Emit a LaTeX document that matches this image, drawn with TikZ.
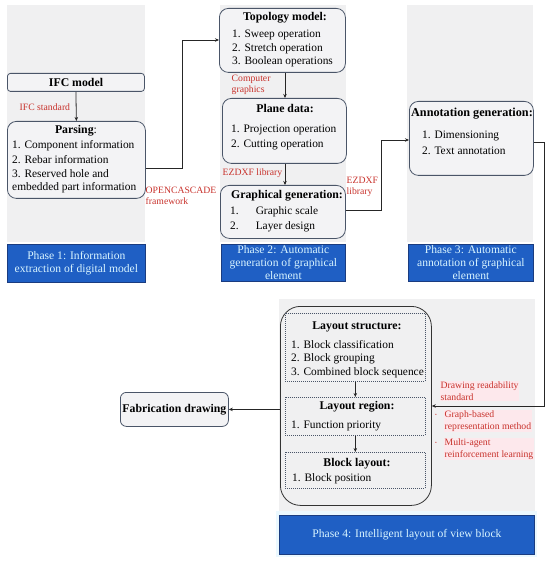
\documentclass[tikz,border=0pt]{standalone}
\usepackage{fontspec}
\setmainfont{Liberation Serif}
\usetikzlibrary{arrows.meta}
\definecolor{panelgray}{HTML}{F0F0F1}
\definecolor{boxfill}{HTML}{F3F3F5}
\definecolor{boxline}{HTML}{4A5568}
\definecolor{phaseblue}{HTML}{1F5FC4}
\definecolor{phaseline}{HTML}{1A3C80}
\definecolor{phasetext}{HTML}{D8F4FF}
\definecolor{labred}{HTML}{C8322C}
\definecolor{labpink}{HTML}{FDE8EC}
\tikzset{
  panel/.style={fill=panelgray, draw=none},
  rbox/.style={draw=boxline, fill=boxfill, line width=0.8pt, rounded corners=9pt},
  dbox/.style={draw=boxline, dashed, dash pattern=on 1pt off 1pt, line width=0.6pt},
  phase/.style={draw=phaseline, fill=phaseblue, line width=0.8pt},
  phtxt/.style={text=phasetext, font=\fontsize{11.6}{13}\selectfont, align=center, inner sep=0pt},
  ttl/.style={font=\fontsize{11.8}{13}\selectfont\bfseries, inner sep=0pt},
  itm/.style={font=\fontsize{11.4}{13}\selectfont, inner sep=0pt, anchor=west},
  lab/.style={text=labred, font=\fontsize{9.7}{11.5}\selectfont, inner sep=0.5pt, anchor=west},
  conn/.style={draw=black!85, line width=0.8pt, -{Stealth[length=4pt,width=3.5pt]}},
}
\begin{document}
\begin{tikzpicture}[x=1pt,y=-1pt]
\useasboundingbox (0,0) rectangle (550,561);
% panels
\fill[panel] (7,5) rectangle (145,242);
\fill[panel] (220,5) rectangle (346,242);
\fill[panel] (407,5) rectangle (533,242);
\fill[panel] (279,299) rectangle (535,513);
\fill[cyan!8] (276,511) rectangle (537,557);
% Phase 1
\node[rbox, rounded corners=3pt, minimum width=137pt, minimum height=18pt, anchor=north west] (ifc) at (7,73) {};
\node[ttl] (ifct) at (76,82) {IFC model};
\node[rbox, minimum width=138pt, minimum height=77pt, anchor=north west] (parse) at (7,121) {};
\node[ttl] (parset) at (76,131) {Parsing\textmd{:}};
\node[itm] (p1) at (12,146) {1. Component information};
\node[itm] (p2) at (12,160) {2. Rebar information};
\node[itm] (p3) at (12,174) {3. Reserved hole and};
\node[itm] (p4) at (12,188) {embedded part information};
\node[phase, minimum width=138pt, minimum height=38pt, anchor=north west] (ph1) at (7,244) {};
\node[phtxt] (ph1t) at (ph1.center) {Phase 1: Information\\extraction of digital model};
\node[lab] (l1) at (19,107) {IFC standard};
% Phase 2
\node[rbox, minimum width=126pt, minimum height=64pt, anchor=north west] (topo) at (219,8) {};
\node[ttl] (topot) at (285,18) {Topology model:};
\node[itm] (t1) at (232,35) {1. Sweep operation};
\node[itm] (t2) at (232,49) {2. Stretch operation};
\node[itm] (t3) at (232,62) {3. Boolean operations};
\node[rbox, minimum width=124pt, minimum height=65pt, anchor=north west] (plane) at (222,98) {};
\node[ttl] (planet) at (285,108) {Plane data:};
\node[itm] (pl1) at (231,130) {1. Projection operation};
\node[itm] (pl2) at (231,145) {2. Cutting operation};
\node[rbox, minimum width=125pt, minimum height=53pt, anchor=north west] (graph) at (220,185) {};
\node[ttl] (grapht) at (287,196) {Graphical generation:};
\node[itm] (g1) at (230,212) {1.\hspace{17pt}Graphic scale};
\node[itm] (g2) at (230,227) {2.\hspace{17pt}Layer design};
\node[phase, minimum width=124pt, minimum height=37pt, anchor=north west] (ph2) at (221,244) {};
\node[phtxt] (ph2t) at (ph2.center) {Phase 2: Automatic\\generation of graphical\\element};
\node[lab, align=left] (l2) at (231,85) {Computer\\graphics};
\node[lab] (l3) at (222,173) {EZDXF library};
\node[lab, align=left] (l4) at (346,187) {EZDXF\\library};
\node[lab, align=left] (l5) at (145,196) {OPENCASCADE\\framework};
% Phase 3
\node[rbox, minimum width=124pt, minimum height=74pt, anchor=north west] (anno) at (409,101) {};
\node[ttl, font=\fontsize{12.2}{13}\selectfont\bfseries] (annot) at (472,114) {Annotation generation:};
\node[itm] (a1) at (422,136) {1. Dimensioning};
\node[itm] (a2) at (422,151) {2. Text annotation};
\node[phase, minimum width=125pt, minimum height=37pt, anchor=north west] (ph3) at (408,244) {};
\node[phtxt] (ph3t) at (ph3.center) {Phase 3: Automatic\\annotation of graphical\\element};
% Phase 4
\node[draw=black!80, line width=0.8pt, rounded corners=20pt, minimum width=151pt, minimum height=199pt, anchor=north west] (big) at (280,306) {};
\node[dbox, minimum width=140pt, minimum height=68pt, anchor=north west] (ls) at (285,313) {};
\node[ttl] (lst) at (357,327) {Layout structure:};
\node[itm] (ls1) at (291,345) {1. Block classification};
\node[itm] (ls2) at (291,359) {2. Block grouping};
\node[itm] (ls3) at (291,373) {3. Combined block sequence};
\node[dbox, minimum width=140pt, minimum height=38pt, anchor=north west] (lr) at (285,397) {};
\node[ttl] (lrt) at (357,407) {Layout region:};
\node[itm] (lr1) at (291,426) {1. Function priority};
\node[dbox, minimum width=140pt, minimum height=36pt, anchor=north west] (bl) at (285,452) {};
\node[ttl] (blt) at (357,464) {Block layout:};
\node[itm] (bl1) at (292,479) {1. Block position};
\node[rbox, rounded corners=6pt, minimum width=108pt, minimum height=34pt, anchor=north west] (fab) at (120,392) {};
\node[ttl] (fabt) at (fab.center) {Fabrication drawing};
\node[phase, minimum width=255pt, minimum height=39pt, anchor=north west] (ph4) at (279,515) {};
\node[phtxt] (ph4t) at (ph4.center) {Phase 4: Intelligent layout of view block};
\node[lab, align=left, fill=labpink] (l6) at (440,391) {Drawing readability\\standard};
\node[lab, align=left, fill=labpink] (l7) at (444,421) {Graph-based\\representation method};
\node[lab, align=left, fill=labpink] (l8) at (444,449) {Multi-agent\\reinforcement learning};
\node[text=labred, font=\tiny, inner sep=0pt] (b1) at (436,415) {\textbullet};
\node[text=labred, font=\tiny, inner sep=0pt] (b2) at (436,443) {\textbullet};
% connectors
\coordinate (c1) at (182,168);
\coordinate (c2) at (182,40);
\coordinate (c3) at (381,210);
\coordinate (c4) at (381,140);
\coordinate (c5) at (544,142);
\coordinate (c6) at (544,406);
\draw[conn] (ifc.south) -- (parse.north);
\draw[conn] (parse.east |- c1) -- (c1) -- (c2) -- (topo.west |- c2);
\draw[conn] (topo.south -| 285,0) -- (285,98);
\draw[conn] (plane.south -| 285,0) -- (285,185);
\draw[conn] (graph.east |- c3) -- (c3) -- (c4) -- (anno.west |- c4);
\draw[conn] (anno.east |- c5) -- (c5) -- (c6) -- (big.east |- c6);
\draw[conn] (ls.south) -- (lr.north);
\draw[conn] (lr.south) -- (bl.north);
\draw[conn] (big.west |- fab.east) -- (fab.east);
\end{tikzpicture}
\end{document}
